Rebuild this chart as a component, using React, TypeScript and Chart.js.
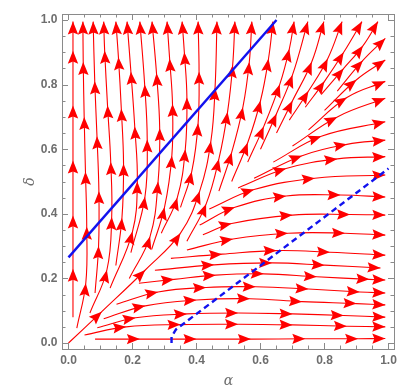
import React, { useEffect, useRef } from "react";
import { Chart, registerables } from "chart.js";

Chart.register(...registerables);

// ---- axis data ----
const xTickValues = [0, 0.2, 0.4, 0.6, 0.8, 1.0];
const yTickValues = [0, 0.2, 0.4, 0.6, 0.8, 1.0];
const minorTickValues = [0, 0.05, 0.1, 0.15, 0.2, 0.25, 0.3, 0.35, 0.4, 0.45, 0.5, 0.55, 0.6, 0.65, 0.7, 0.75, 0.8, 0.85, 0.9, 0.95, 1.0];
const xAxisLabel = "α";
const yAxisLabel = "δ";

// ---- boundary curves ----
const solidBoundary: number[][] = [[0, 0.265], [0.65, 1.0]];
const dashedBoundary: number[][] = [[0.322, 0.0], [0.322, 0.02], [0.336, 0.042], [1.0, 0.54]];

// ---- streamlines (start point, then arrowhead points) ----
const upwardStreams: number[][][] = [
  [[0.014, 0.08], [0.014, 0.23], [0.014, 0.395], [0.014, 0.565], [0.014, 0.735], [0.014, 0.905], [0.014, 0.995]],
  [[0.026, 0.046], [0.054, 0.185], [0.057, 0.36], [0.053, 0.53], [0.049, 0.70], [0.046, 0.87], [0.045, 0.995]],
  [[0.083, 0.155], [0.094, 0.30], [0.095, 0.47], [0.089, 0.64], [0.082, 0.81], [0.077, 0.995]],
  [[0.067, 0.093], [0.12, 0.226], [0.135, 0.39], [0.132, 0.56], [0.122, 0.735], [0.113, 0.905], [0.11, 0.995]],
  [[0.148, 0.24], [0.167, 0.387], [0.172, 0.555], [0.165, 0.725], [0.156, 0.885], [0.148, 0.995]],
  [[0.13, 0.17], [0.2, 0.345], [0.215, 0.5], [0.207, 0.67], [0.195, 0.84], [0.183, 0.995]],
  [[0.195, 0.28], [0.239, 0.453], [0.246, 0.63], [0.238, 0.80], [0.223, 0.995]],
  [[0.19, 0.2], [0.255, 0.33], [0.28, 0.50], [0.285, 0.665], [0.275, 0.835], [0.261, 0.995]],
  [[0.26, 0.29], [0.30, 0.42], [0.323, 0.58], [0.325, 0.74], [0.316, 0.88], [0.308, 0.995]],
  [[0.29, 0.34], [0.34, 0.45], [0.365, 0.60], [0.37, 0.76], [0.362, 0.90], [0.355, 0.995]],
  [[0.35, 0.42], [0.385, 0.53], [0.405, 0.68], [0.408, 0.84], [0.405, 0.995]],
  [[0.0, 0.0], [0.104, 0.097], [0.24, 0.226], [0.35, 0.34], [0.41, 0.47], [0.445, 0.625], [0.458, 0.79], [0.464, 0.995]],
];

const diagonalTopStreams: number[][][] = [
  [[0.37, 0.315], [0.43, 0.43], [0.47, 0.57], [0.497, 0.715], [0.513, 0.86], [0.52, 0.995]],
  [[0.47, 0.47], [0.51, 0.59], [0.545, 0.73], [0.565, 0.87], [0.573, 0.995]],
  [[0.51, 0.50], [0.56, 0.62], [0.60, 0.75], [0.625, 0.88], [0.639, 0.995]],
  [[0.56, 0.56], [0.61, 0.67], [0.66, 0.80], [0.69, 0.91], [0.705, 0.995]],
  [[0.60, 0.60], [0.65, 0.71], [0.70, 0.83], [0.748, 0.995]],
  [[0.65, 0.65], [0.70, 0.75], [0.76, 0.87], [0.798, 0.995]],
  [[0.69, 0.69], [0.75, 0.78], [0.81, 0.88], [0.855, 0.995]],
  [[0.74, 0.73], [0.80, 0.81], [0.86, 0.90], [0.917, 0.995]],
  [[0.79, 0.77], [0.86, 0.85], [0.92, 0.92], [0.967, 0.995]],
];

const diagonalRightStreams: number[][][] = [
  [[0.84, 0.78], [0.92, 0.875], [0.99, 0.943]],
  [[0.80, 0.72], [0.90, 0.815], [0.99, 0.876]],
  [[0.75, 0.66], [0.87, 0.76], [0.99, 0.81]],
  [[0.70, 0.61], [0.84, 0.70], [0.99, 0.758]],
  [[0.64, 0.56], [0.79, 0.64], [0.99, 0.685]],
  [[0.58, 0.51], [0.73, 0.58], [0.87, 0.615], [0.99, 0.628]],
  [[0.53, 0.48], [0.68, 0.54], [0.84, 0.57], [0.99, 0.577]],
  [[0.44, 0.415], [0.58, 0.475], [0.77, 0.51], [0.99, 0.52]],
];

const rightwardStreams: number[][][] = [
  [[0.41, 0.365], [0.52, 0.42], [0.68, 0.455], [0.85, 0.458], [0.99, 0.452]],
  [[0.42, 0.335], [0.51, 0.37], [0.70, 0.396], [0.88, 0.398], [0.99, 0.396]],
  [[0.37, 0.288], [0.514, 0.322], [0.686, 0.34], [0.864, 0.34], [0.99, 0.334]],
  [[0.32, 0.262], [0.48, 0.275], [0.65, 0.286], [0.817, 0.281], [0.99, 0.272]],
  [[0.27, 0.225], [0.455, 0.242], [0.636, 0.248], [0.80, 0.241], [0.975, 0.232]],
  [[0.22, 0.185], [0.33, 0.197], [0.46, 0.21], [0.61, 0.214], [0.776, 0.205], [0.94, 0.197], [0.99, 0.195]],
  [[0.15, 0.12], [0.28, 0.158], [0.43, 0.172], [0.585, 0.174], [0.75, 0.167], [0.91, 0.158], [0.99, 0.155]],
  [[0.11, 0.075], [0.24, 0.115], [0.40, 0.133], [0.567, 0.137], [0.73, 0.128], [0.90, 0.122], [0.99, 0.118]],
  [[0.09, 0.047], [0.21, 0.078], [0.37, 0.09], [0.53, 0.093], [0.70, 0.09], [0.86, 0.085], [0.99, 0.08]],
  [[0.05, 0.025], [0.18, 0.05], [0.35, 0.057], [0.53, 0.058], [0.70, 0.056], [0.87, 0.052], [0.99, 0.05]],
  [[0.083, 0.012], [0.223, 0.012], [0.40, 0.012], [0.57, 0.012], [0.74, 0.013], [0.905, 0.013], [0.99, 0.014]],
];

const STREAM_COLOR = "#ff0000";
const BOUNDARY_COLOR = "#1212ee";
const AXIS_COLOR = "#8a8a8a";
const TEXT_COLOR = "#6e6e6e";

const toXY = (pts: number[][]) => pts.map(([x, y]) => ({ x, y }));

const arrowPlugin = {
  id: "streamArrows",
  afterDatasetDraw(chart: any, args: any) {
    const ds = chart.data.datasets[args.index];
    if (!ds.arrows) return;
    const pts = args.meta.data;
    const ctx = chart.ctx;
    ctx.save();
    ctx.fillStyle = ds.borderColor;
    const L = 13;
    const W = 5.2;
    for (let i = 1; i < pts.length; i++) {
      const p = pts[i];
      let bx = p.cp1x;
      let by = p.cp1y;
      if (bx === undefined || (Math.abs(bx - p.x) < 0.3 && Math.abs(by - p.y) < 0.3)) {
        bx = pts[i - 1].x;
        by = pts[i - 1].y;
      }
      const a = Math.atan2(p.y - by, p.x - bx);
      const c = Math.cos(a);
      const s = Math.sin(a);
      const tx = p.x;
      const ty = p.y;
      const bxC = tx - L * c;
      const byC = ty - L * s;
      const nx = tx - L * 0.84 * c;
      const ny = ty - L * 0.84 * s;
      ctx.beginPath();
      ctx.moveTo(tx, ty);
      ctx.lineTo(bxC - W * s, byC + W * c);
      ctx.lineTo(nx, ny);
      ctx.lineTo(bxC + W * s, byC - W * c);
      ctx.closePath();
      ctx.fill();
    }
    ctx.restore();
  },
};

const framePlugin = {
  id: "frameAxes",
  afterDraw(chart: any) {
    const { ctx, chartArea: ca, scales } = chart;
    const xs = scales.x;
    const ys = scales.y;
    ctx.save();
    ctx.strokeStyle = AXIS_COLOR;
    ctx.lineWidth = 1;
    ctx.strokeRect(Math.round(ca.left) + 0.5, Math.round(ca.top) + 0.5, Math.round(ca.right - ca.left), Math.round(ca.bottom - ca.top));
    const isMajor = (v: number) => xTickValues.some((t) => Math.abs(t - v) < 1e-6);
    ctx.beginPath();
    minorTickValues.forEach((v) => {
      const len = isMajor(v) ? 6 : 3.5;
      const px = Math.round(xs.getPixelForValue(v)) + 0.5;
      ctx.moveTo(px, ca.bottom);
      ctx.lineTo(px, ca.bottom - len);
      ctx.moveTo(px, ca.top);
      ctx.lineTo(px, ca.top + len);
      const py = Math.round(ys.getPixelForValue(v)) + 0.5;
      ctx.moveTo(ca.left, py);
      ctx.lineTo(ca.left + len, py);
      ctx.moveTo(ca.right, py);
      ctx.lineTo(ca.right - len, py);
    });
    ctx.stroke();

    ctx.fillStyle = TEXT_COLOR;
    ctx.font = 'bold 12px "Liberation Sans", Arial, sans-serif';
    ctx.textAlign = "center";
    ctx.textBaseline = "middle";
    xTickValues.forEach((v) => {
      ctx.fillText(v.toFixed(1), xs.getPixelForValue(v), ca.bottom + 12);
    });
    ctx.textAlign = "right";
    yTickValues.forEach((v) => {
      ctx.fillText(v.toFixed(1), ca.left - 4.5, ys.getPixelForValue(v));
    });

    ctx.font = 'italic 14px "DejaVu Serif", serif';
    ctx.textAlign = "center";
    ctx.fillText(xAxisLabel, (xs.getPixelForValue(0) + xs.getPixelForValue(1)) / 2, ca.bottom + 32);
    ctx.save();
    ctx.translate(ca.left - 32, (ys.getPixelForValue(0) + ys.getPixelForValue(1)) / 2);
    ctx.rotate(-Math.PI / 2);
    ctx.fillText(yAxisLabel, 0, 0);
    ctx.restore();
    ctx.restore();
  },
};

export default function App() {
  const canvasRef = useRef<HTMLCanvasElement | null>(null);

  useEffect(() => {
    if (!canvasRef.current) return;
    const streamSets = [...upwardStreams, ...diagonalTopStreams, ...diagonalRightStreams, ...rightwardStreams];
    const streamDatasets = streamSets.map((s) => ({
      data: toXY(s),
      showLine: true,
      borderColor: STREAM_COLOR,
      borderWidth: 1.1,
      pointRadius: 0,
      tension: 0.4,
      fill: false,
      arrows: true,
      order: 2,
    }));
    const chart = new Chart(canvasRef.current, {
      type: "scatter",
      data: {
        datasets: [
          {
            data: toXY(solidBoundary),
            showLine: true,
            borderColor: BOUNDARY_COLOR,
            borderWidth: 2.4,
            pointRadius: 0,
            tension: 0,
            order: 0,
          } as any,
          {
            data: toXY(dashedBoundary),
            showLine: true,
            borderColor: BOUNDARY_COLOR,
            borderWidth: 2.4,
            borderDash: [6, 4],
            pointRadius: 0,
            tension: 0,
            order: 0,
          } as any,
          ...(streamDatasets as any[]),
        ],
      },
      options: {
        responsive: false,
        animation: false,
        devicePixelRatio: 1,
        layout: { padding: { left: 62, right: 21, top: 14, bottom: 40 } },
        plugins: { legend: { display: false }, tooltip: { enabled: false } },
        scales: {
          x: { type: "linear", min: -0.0203, max: 1.0172, display: false },
          y: { type: "linear", min: -0.0186, max: 1.0186, display: false },
        },
      },
      plugins: [arrowPlugin, framePlugin],
    } as any);
    return () => chart.destroy();
  }, []);

  return (
    <div style={{ position: "absolute", left: 0, top: 0, width: 415, height: 389, background: "#fff" }}>
      <canvas ref={canvasRef} width={415} height={389} />
    </div>
  );
}
